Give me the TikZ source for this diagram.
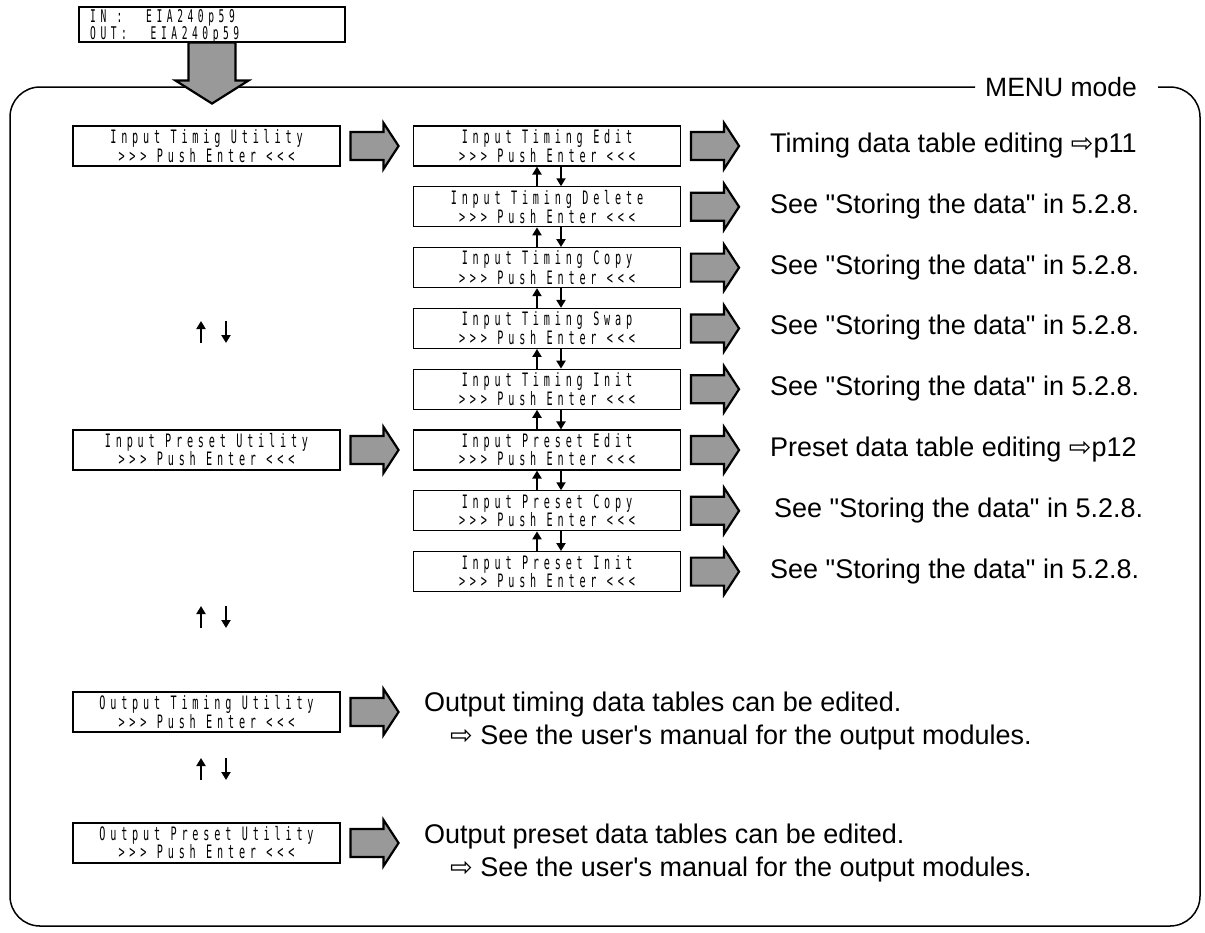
\documentclass[tikz,border=0pt]{standalone}
\usepackage{fontspec}
\setmainfont[Ligatures=TeXOff]{Liberation Sans}
\newfontfamily\lcdfont[FakeStretch=0.55,LetterSpace=26,Ligatures=TeXOff]{DejaVu Sans Mono}
\newfontfamily\symfont{DejaVu Sans}
\newcommand\lcdbox{\lcdfont\fontsize{18.5}{18}\selectfont\spaceskip 10.4pt\relax}
\newcommand\lcdtop{\lcdfont\fontsize{17.5}{16.5}\selectfont\spaceskip 10.4pt\relax}
\usetikzlibrary{arrows.meta}
\definecolor{arrowgray}{HTML}{999999}
\begin{document}
\begin{tikzpicture}[x=1pt,y=-1pt,
  lcd/.style={draw, line width=1.1pt, minimum width=267pt, minimum height=40pt, inner sep=0pt, align=center, font=\lcdbox},
  desc/.style={anchor=west, inner sep=0pt, text height=19pt, text depth=6pt, font=\fontsize{27}{30}\selectfont},
  fat/.style={draw, line width=2.2pt, fill=arrowgray},
  small/.style={line width=2pt, -{Triangle[length=8pt,width=9pt]}},
  fatright/.pic={\path[fat] (0,-14) -- (33,-14) -- (33,-23) -- (48,0) -- (33,23) -- (33,14) -- (0,14) -- cycle;}
]
\useasboundingbox (0,0) rectangle (1205,932);

% frame
\draw[line width=1.5pt, rounded corners=30pt] (975,87) -- (10,87) -- (10,926) -- (1200,926) -- (1200,87) -- (1158,87);
\node[anchor=west, inner sep=0pt, font=\fontsize{26.5}{30}\selectfont] (menu) at (985,87) {MENU mode};

% top box
\node[draw, line width=1.1pt, minimum width=266pt, minimum height=35pt, inner sep=0pt] (top) at (212,24.5) {};
\node[anchor=west, inner sep=0pt, align=left, font=\lcdtop] (toptext) at (90,26.5) {IN :\ \ \,EIA240p59\\OUT:\ \ \,EIA240p59};
\path[fat] ([xshift=-23.5pt]top.south) -- ++(47,0) -- ++(0,38) -- ++(13,0) -- ++(-36.5,23) -- ++(-36.5,-23) -- ++(13,0) -- cycle;

% left column
\node[lcd] (l0) at (206.5,146) {Input Timig Utility\\>>> Push Enter <<<};
\node[lcd] (l1) at (206.5,450) {Input Preset Utility\\>>> Push Enter <<<};
\node[lcd] (l2) at (206.5,712) {Output Timing Utility\\>>> Push Enter <<<};
\node[lcd] (l3) at (206.5,843) {Output Preset Utility\\>>> Push Enter <<<};
\foreach \n in {l0,l1,l2,l3} \pic at ([xshift=10pt]\n.east) {fatright};

% middle column
\node[lcd] (m0) at (547,146) {Input Timing Edit\\>>> Push Enter <<<};
\node[lcd] (m1) at (547,206.8) {Input Timing Delete\\>>> Push Enter <<<};
\node[lcd] (m2) at (547,267.6) {Input Timing Copy\\>>> Push Enter <<<};
\node[lcd] (m3) at (547,328.4) {Input Timing Swap\\>>> Push Enter <<<};
\node[lcd] (m4) at (547,389.2) {Input Timing Init\\>>> Push Enter <<<};
\node[lcd] (m5) at (547,450) {Input Preset Edit\\>>> Push Enter <<<};
\node[lcd] (m6) at (547,510.8) {Input Preset Copy\\>>> Push Enter <<<};
\node[lcd] (m7) at (547,571.6) {Input Preset Init\\>>> Push Enter <<<};
\foreach \i in {0,...,7} \pic at ([xshift=10pt]m\i.east) {fatright};
\foreach \i [evaluate=\i as \j using int(\i+1)] in {0,...,6} {
  \draw[small] ([xshift=-10pt]m\j.north) -- ([xshift=-10pt]m\i.south);
  \draw[small] ([xshift=14pt]m\i.south) -- ([xshift=14pt]m\j.north);
}

% descriptions
\node[desc] (d0) at (770,146) {Timing data table editing {\symfont ⇨}p11};
\node[desc] (d1) at (770,206.8) {See "Storing the data" in 5.2.8.};
\node[desc] (d2) at (770,267.6) {See "Storing the data" in 5.2.8.};
\node[desc] (d3) at (770,328.4) {See "Storing the data" in 5.2.8.};
\node[desc] (d4) at (770,389.2) {See "Storing the data" in 5.2.8.};
\node[desc] (d5) at (770,450) {Preset data table editing {\symfont ⇨}p12};
\node[desc] (d6) at (774,510.8) {See "Storing the data" in 5.2.8.};
\node[desc] (d7) at (770,571.6) {See "Storing the data" in 5.2.8.};
\node[desc] (o1a) at (424,705) {Output timing data tables can be edited.};
\node[desc] (o1b) at (450,738) {{\symfont ⇨} See the user's manual for the output modules.};
\node[desc] (o2a) at (424,837) {Output preset data tables can be edited.};
\node[desc] (o2b) at (450,870) {{\symfont ⇨} See the user's manual for the output modules.};

% left up/down pairs
\coordinate (ua1) at (201,343); \coordinate (ub1) at (201,321);
\coordinate (da1) at (226,321); \coordinate (db1) at (226,343);
\coordinate (ua2) at (201,628); \coordinate (ub2) at (201,606);
\coordinate (da2) at (226,606); \coordinate (db2) at (226,628);
\coordinate (ua3) at (201,780); \coordinate (ub3) at (201,758);
\coordinate (da3) at (226,758); \coordinate (db3) at (226,780);
\foreach \k in {1,2,3} {
  \draw[small] (ua\k) -- (ub\k);
  \draw[small] (da\k) -- (db\k);
}
\end{tikzpicture}
\end{document}
